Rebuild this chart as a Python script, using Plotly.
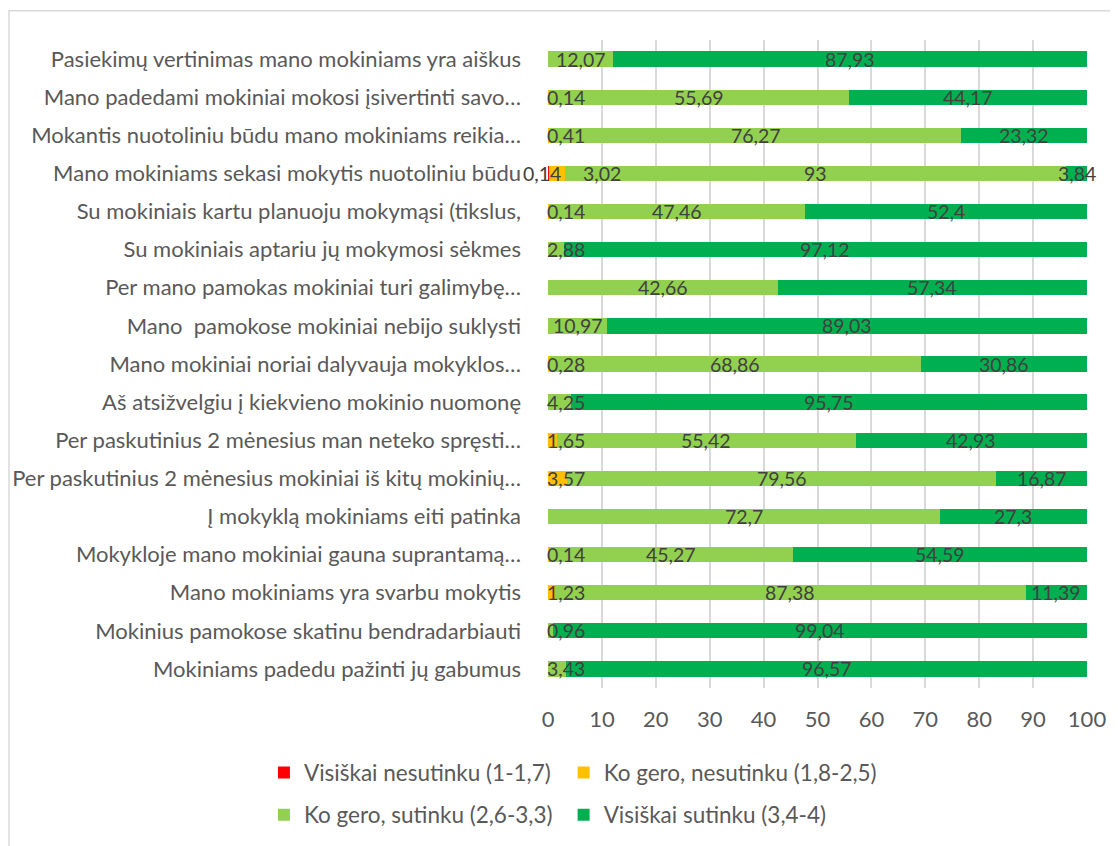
import plotly.graph_objects as go

# Categorias (de arriba hacia abajo)
categorias = [
    "Pasiekimų vertinimas mano mokiniams yra aiškus",
    "Mano padedami mokiniai mokosi įsivertinti savo…",
    "Mokantis nuotoliniu būdu mano mokiniams reikia…",
    "Mano mokiniams sekasi mokytis nuotoliniu būdu",
    "Su mokiniais kartu planuoju mokymąsi (tikslus,",
    "Su mokiniais aptariu jų mokymosi sėkmes",
    "Per mano pamokas mokiniai turi galimybę…",
    "Mano  pamokose mokiniai nebijo suklysti",
    "Mano mokiniai noriai dalyvauja mokyklos…",
    "Aš atsižvelgiu į kiekvieno mokinio nuomonę",
    "Per paskutinius 2 mėnesius man neteko spręsti…",
    "Per paskutinius 2 mėnesius mokiniai iš kitų mokinių…",
    "Į mokyklą mokiniams eiti patinka",
    "Mokykloje mano mokiniai gauna suprantamą…",
    "Mano mokiniams yra svarbu mokytis",
    "Mokinius pamokose skatinu bendradarbiauti",
    "Mokiniams padedu pažinti jų gabumus",
]

# Series
visiskai_nesutinku = [0, 0, 0, 0.14, 0, 0, 0, 0, 0, 0, 0, 0, 0, 0, 0, 0, 0]
ko_gero_nesutinku = [0, 0.14, 0.41, 3.02, 0.14, 0, 0, 0, 0.28, 0, 1.65, 3.57, 0, 0.14, 1.23, 0, 0]
ko_gero_sutinku = [12.07, 55.69, 76.27, 93, 47.46, 2.88, 42.66, 10.97, 68.86, 4.25, 55.42, 79.56, 72.7, 45.27, 87.38, 0.96, 3.43]
visiskai_sutinku = [87.93, 44.17, 23.32, 3.84, 52.4, 97.12, 57.34, 89.03, 30.86, 95.75, 42.93, 16.87, 27.3, 54.59, 11.39, 99.04, 96.57]

nombres = [
    "Visiškai nesutinku (1-1,7)",
    "Ko gero, nesutinku (1,8-2,5)",
    "Ko gero, sutinku (2,6-3,3)",
    "Visiškai sutinku (3,4-4)",
]
colores = ["#FF0000", "#FFC000", "#92D050", "#00B050"]
series = [visiskai_nesutinku, ko_gero_nesutinku, ko_gero_sutinku, visiskai_sutinku]

fuente = "Lato"
gris_texto = "#595959"
fig = go.Figure()

# una leyenda por serie, para colocarlas en 2 filas x 2 columnas
ids_leyenda = ["legend", "legend2", "legend3", "legend4"]
pos_leyenda = [(-0.527, -0.131), (0.029, -0.131), (-0.527, -0.196), (0.029, -0.196)]

for nombre, color, valores, ley in zip(nombres, colores, series, ids_leyenda):
    fig.add_trace(go.Bar(
        y=categorias,
        x=valores,
        name=nombre,
        orientation="h",
        marker=dict(color=color, line=dict(width=0)),
        legend=ley,
        showlegend=True,
        hoverinfo="x+name",
    ))

# Etiquetas de datos (como en Excel, centradas en cada segmento)
anotaciones = []
for i, cat in enumerate(categorias):
    acumulado = 0
    pequenos = []
    for valores in series:
        v = valores[i]
        if v > 0:
            centro = acumulado + v / 2
            texto = "{:g}".format(v).replace(".", ",")
            if centro < 3.2:
                pequenos.append(texto)
            else:
                anotaciones.append(dict(x=centro, y=cat, text=texto, xanchor="center"))
        acumulado += v
    # los segmentos muy pequenos se pegan al eje
    if len(pequenos) == 2:
        anotaciones.append(dict(x=0, y=cat, text=pequenos[0], xanchor="right", xshift=15))
        anotaciones.append(dict(x=0, y=cat, text=pequenos[1], xanchor="left", xshift=33))
    elif len(pequenos) == 1:
        anotaciones.append(dict(x=0, y=cat, text=pequenos[0], xanchor="left", xshift=-3))

for a in anotaciones:
    a.update(xref="x", yref="y", showarrow=False,
             font=dict(family=fuente, size=19.5, color="#404040"))

# la pagina tiene 8 px de margen en el body
fig.update_layout(
    barmode="stack",
    bargap=0.6,
    width=1110,
    height=838,
    margin=dict(l=540, r=31, t=32, b=158, autoexpand=False),
    paper_bgcolor="white",
    plot_bgcolor="white",
    showlegend=True,
    font=dict(family=fuente, size=22, color=gris_texto),
    annotations=anotaciones,
    # marco del grafico
    shapes=[dict(type="rect", xref="paper", yref="paper",
                 x0=-1.0, x1=1.1, y0=-0.25, y1=1.045,
                 line=dict(color="#D9D9D9", width=1.5), layer="below")],
)

for ley, (lx, ly) in zip(ids_leyenda, pos_leyenda):
    fig.update_layout({ley: dict(
        visible=True,
        orientation="h", x=lx, xanchor="left", y=ly, yanchor="middle",
        itemwidth=30, bgcolor="rgba(0,0,0,0)",
        font=dict(family=fuente, size=22.5, color=gris_texto),
    )})

fig.update_xaxes(
    range=[0, 100],
    dtick=10,
    showgrid=True,
    gridcolor="#D9D9D9",
    gridwidth=1.5,
    zeroline=False,
    showline=False,
    automargin=False,
    ticklabelstandoff=16,
    tickfont=dict(family=fuente, size=22, color=gris_texto),
)
fig.update_yaxes(
    autorange="reversed",
    showgrid=False,
    automargin=False,
    ticklabelstandoff=26,
    tickfont=dict(family=fuente, size=22, color=gris_texto),
)

fig.write_html("out.html")
